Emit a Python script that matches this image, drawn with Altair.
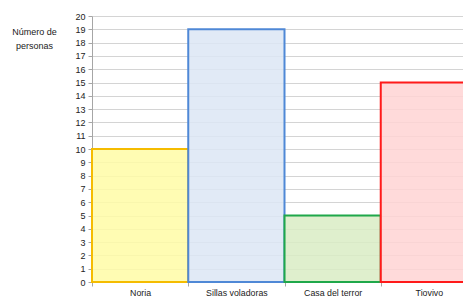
import altair as alt
import pandas as pd

categories = ["Noria", "Sillas voladoras", "Casa del terror", "Tiovivo"]
values = [10, 19, 5, 15]
fills = ["#FFFBA6", "#DCE6F5", "#D9ECC4", "#FFD4D4"]
strokes = ["#F5BC00", "#4F88D6", "#1FA84A", "#FF1A1A"]
y_ticks = list(range(0, 21))

df = pd.DataFrame({"cat": categories, "val": values, "fill": fills, "stroke": strokes})

FONT = "Liberation Sans"

chart = alt.Chart(df).mark_bar(strokeWidth=2, opacity=1, fillOpacity=0.85).encode(
    x=alt.X("cat:N", sort=categories, title=None,
            scale=alt.Scale(paddingInner=0, paddingOuter=0, range=[0, 385]),
            axis=alt.Axis(labelAngle=0, tickBand="extent", tickSize=4, tickColor="#A6A6A6",
                          domainColor="#A6A6A6", labelFontSize=8.8, labelColor="#222222",
                          labelFont=FONT, labelPadding=2, labelBaseline="top", grid=False)),
    y=alt.Y("val:Q", title=["Número de", "personas"],
            scale=alt.Scale(domain=[0, 20], nice=False),
            axis=alt.Axis(values=y_ticks, tickSize=4, tickColor="#A6A6A6", domainColor="#A6A6A6",
                          gridColor="#D4D4D4", labelFontSize=9, labelColor="#222222",
                          labelFont=FONT, labelPadding=3,
                          titleAngle=0, titleX=-58, titleY=11, titleAlign="center",
                          titleBaseline="top", titleFont=FONT, titleFontSize=9,
                          titleFontWeight="normal", titleColor="#222222", titleLineHeight=14)),
    fill=alt.Fill("fill:N", scale=None),
    stroke=alt.Stroke("stroke:N", scale=None),
).properties(
    width=371, height=266,
    autosize=alt.AutoSizeParams(type="none"),
    padding={"left": 84, "top": 8, "right": 0, "bottom": 14},
).configure_view(stroke=None)

chart.save("out.html", embed_options={"renderer": "svg", "actions": False})
